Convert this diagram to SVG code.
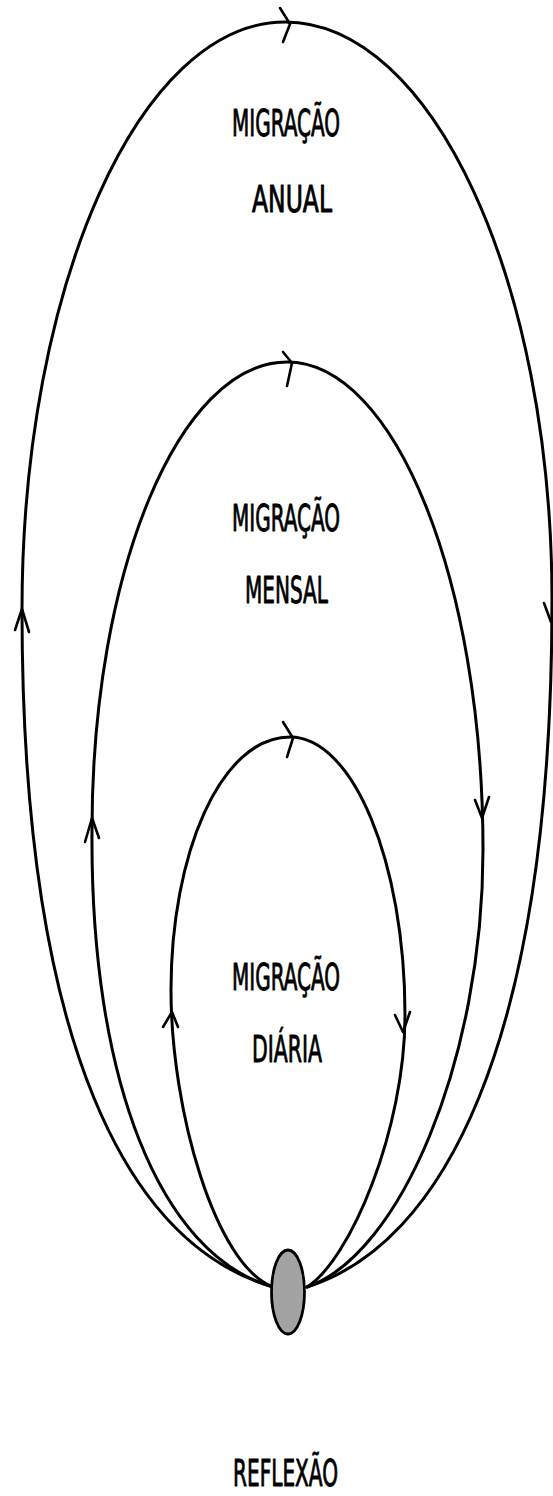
<svg xmlns="http://www.w3.org/2000/svg" width="553" height="1496" viewBox="0 0 553 1496">
<style>
.loop{fill:none;stroke:#000;stroke-width:3;stroke-linecap:round;stroke-linejoin:round}
.head{fill:none;stroke:#000;stroke-width:2.6;stroke-linecap:round;stroke-linejoin:round}
.lbl{font-family:"Liberation Sans Narrow","DejaVu Sans Condensed","Liberation Sans",sans-serif;font-size:37px;fill:#000;stroke:#000;stroke-width:0.9;stroke-linejoin:round}
.node{fill:#a3a3a3;stroke:#000;stroke-width:2.8}
</style>
<rect x="0" y="0" width="553" height="1496" fill="#fff"/>
<g id="connectors">
  <path id="loop-anual" class="loop" d="M273,1287 C130,1245 22,1050 22,610 C22,285 140,22 285,22 C432,22 552,281 552,600 C552,1050 440,1245 307,1287"/>
  <path id="loop-mensal" class="loop" d="M273,1287 C160,1255 90,1080 92,830 C92,572 179,362 287,362 C395,362 483,581 483,850 C483,1060 400,1255 307,1287"/>
  <path id="loop-diaria" class="loop" d="M273,1287 C215,1265 171,1110 171,990 C171,855 220,737 290,737 C353,737 405,862 405,1015 C405,1130 350,1260 307,1287"/>
  <polyline class="head" points="280,8 290,24 283,42"/>
  <polyline class="head" points="283,352 292,363 287,386"/>
  <polyline class="head" points="283,722 293,738 287,757"/>
  <polyline class="head" points="15,630 22,609 29,632"/>
  <polyline class="head" points="544,603 551,622 558,603"/>
  <polyline class="head" points="85,842 92,818 99,838"/>
  <polyline class="head" points="475,800 482,818 489,797"/>
  <polyline class="head" points="163,1027 172,1012 178,1027"/>
  <polyline class="head" points="395,1015 403,1032 410,1012"/>
</g>
<g id="label-anual">
  <text class="lbl" x="232" y="136" textLength="108" lengthAdjust="spacingAndGlyphs">MIGRAÇÃO</text>
  <text class="lbl" x="252" y="212" textLength="80" lengthAdjust="spacingAndGlyphs">ANUAL</text>
</g>
<g id="label-mensal">
  <text class="lbl" x="232" y="531" textLength="108" lengthAdjust="spacingAndGlyphs">MIGRAÇÃO</text>
  <text class="lbl" x="245" y="603" textLength="83" lengthAdjust="spacingAndGlyphs">MENSAL</text>
</g>
<g id="label-diaria">
  <text class="lbl" x="232" y="990" textLength="108" lengthAdjust="spacingAndGlyphs">MIGRAÇÃO</text>
  <text class="lbl" x="252" y="1062" textLength="70" lengthAdjust="spacingAndGlyphs">DIÁRIA</text>
</g>
<g id="node-reflexao">
  <ellipse class="node" cx="288" cy="1292" rx="16.5" ry="42"/>
  <text class="lbl" x="233" y="1486" textLength="105" lengthAdjust="spacingAndGlyphs">REFLEXÃO</text>
</g>
</svg>
